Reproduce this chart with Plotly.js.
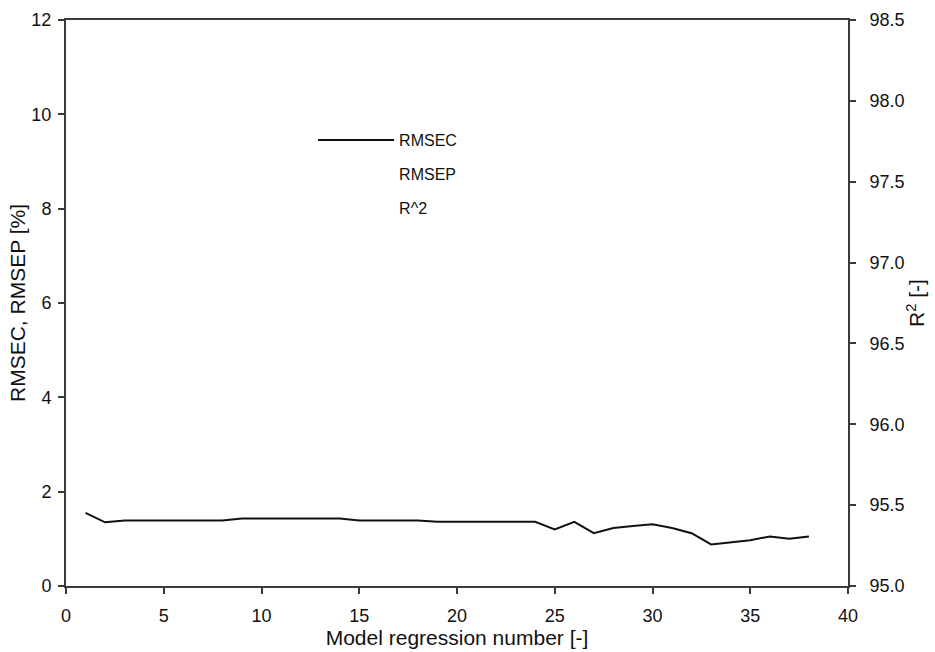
<!DOCTYPE html>
<html>
<head>
<meta charset="utf-8">
<script src="https://cdn.plot.ly/plotly-3.0.1.min.js"></script>
<style>html,body{margin:0;padding:0;background:#fff;}#chart{width:935px;height:652px;}</style>
</head>
<body>
<div id="chart"></div>
<script>
// Model regression numbers
const modelNumbers = [1,2,3,4,5,6,7,8,9,10,11,12,13,14,15,16,17,18,19,20,21,22,23,24,25,26,27,28,29,30,31,32,33,34,35,36,37,38];
// RMSEC [%]
const rmsec = [1.55,1.35,1.39,1.39,1.39,1.39,1.39,1.39,1.43,1.43,1.43,1.43,1.43,1.43,1.39,1.39,1.39,1.39,1.36,1.36,1.36,1.36,1.36,1.36,1.20,1.36,1.12,1.23,1.27,1.31,1.23,1.12,0.88,0.93,0.97,1.05,1.00,1.05];
// RMSEP and R^2 are not legible in the reference (only their legend entries are shown)
const rmsep = [null];
const r2 = [null];

const font = "Arial, 'Liberation Sans', sans-serif";
const axisColor = "#3a3a3a";

const traces = [
  {x: modelNumbers, y: rmsec, name: "RMSEC", type: "scatter", mode: "lines",
   line: {color: "#111", width: 2}, legendgroup: "a"},
  {x: modelNumbers.slice(0, rmsep.length), y: rmsep, name: "RMSEP", type: "scatter", mode: "lines",
   line: {color: "rgba(255,255,255,0)", width: 2}, legendgroup: "b"},
  {x: modelNumbers.slice(0, r2.length), y: r2, name: "R^2", type: "scatter", mode: "lines",
   line: {color: "rgba(255,255,255,0)", width: 2}, yaxis: "y2", legendgroup: "c"}
];

const layout = {
  width: 935, height: 652,
  margin: {l: 66, r: 87, t: 20, b: 66},
  paper_bgcolor: "#fff", plot_bgcolor: "#fff",
  font: {family: font, size: 18, color: "#111"},
  showlegend: true,
  legend: {x: 0.316, y: 0.818, xanchor: "left", yanchor: "top", bgcolor: "rgba(0,0,0,0)",
           font: {family: font, size: 16, color: "#111"}, tracegroupgap: 10, traceorder: "grouped", itemwidth: 76},
  xaxis: {range: [0, 40], dtick: 5, tick0: 0, showgrid: false, zeroline: false,
          showline: true, linecolor: axisColor, linewidth: 2, mirror: true,
          ticks: "outside", ticklen: 6, tickwidth: 2, tickcolor: axisColor,
          ticklabelstandoff: 6,
          tickfont: {family: font, size: 18},
          title: {text: "Model regression number [-]", font: {family: font, size: 21}, standoff: 5}},
  yaxis: {range: [0, 12], dtick: 2, tick0: 0, showgrid: false, zeroline: false,
          showline: true, linecolor: axisColor, linewidth: 2,
          ticks: "outside", ticklen: 6, tickwidth: 2, tickcolor: axisColor,
          ticklabelstandoff: 3,
          tickfont: {family: font, size: 18},
          title: {text: "RMSEC, RMSEP [%]", font: {family: font, size: 21}, standoff: 0}},
  yaxis2: {range: [95, 98.5], dtick: 0.5, tick0: 95, tickformat: ".1f", overlaying: "y", side: "right",
           showgrid: false, zeroline: false,
           showline: true, linecolor: axisColor, linewidth: 2,
           ticks: "outside", ticklen: 6, tickwidth: 2, tickcolor: axisColor,
           ticklabelstandoff: 10,
           tickfont: {family: font, size: 18},
           title: {text: "R<sup>2</sup> [-]", font: {family: font, size: 21}, standoff: 6}}
};

Plotly.newPlot("chart", traces, layout, {displayModeBar: false, staticPlot: true});
</script>
</body>
</html>
